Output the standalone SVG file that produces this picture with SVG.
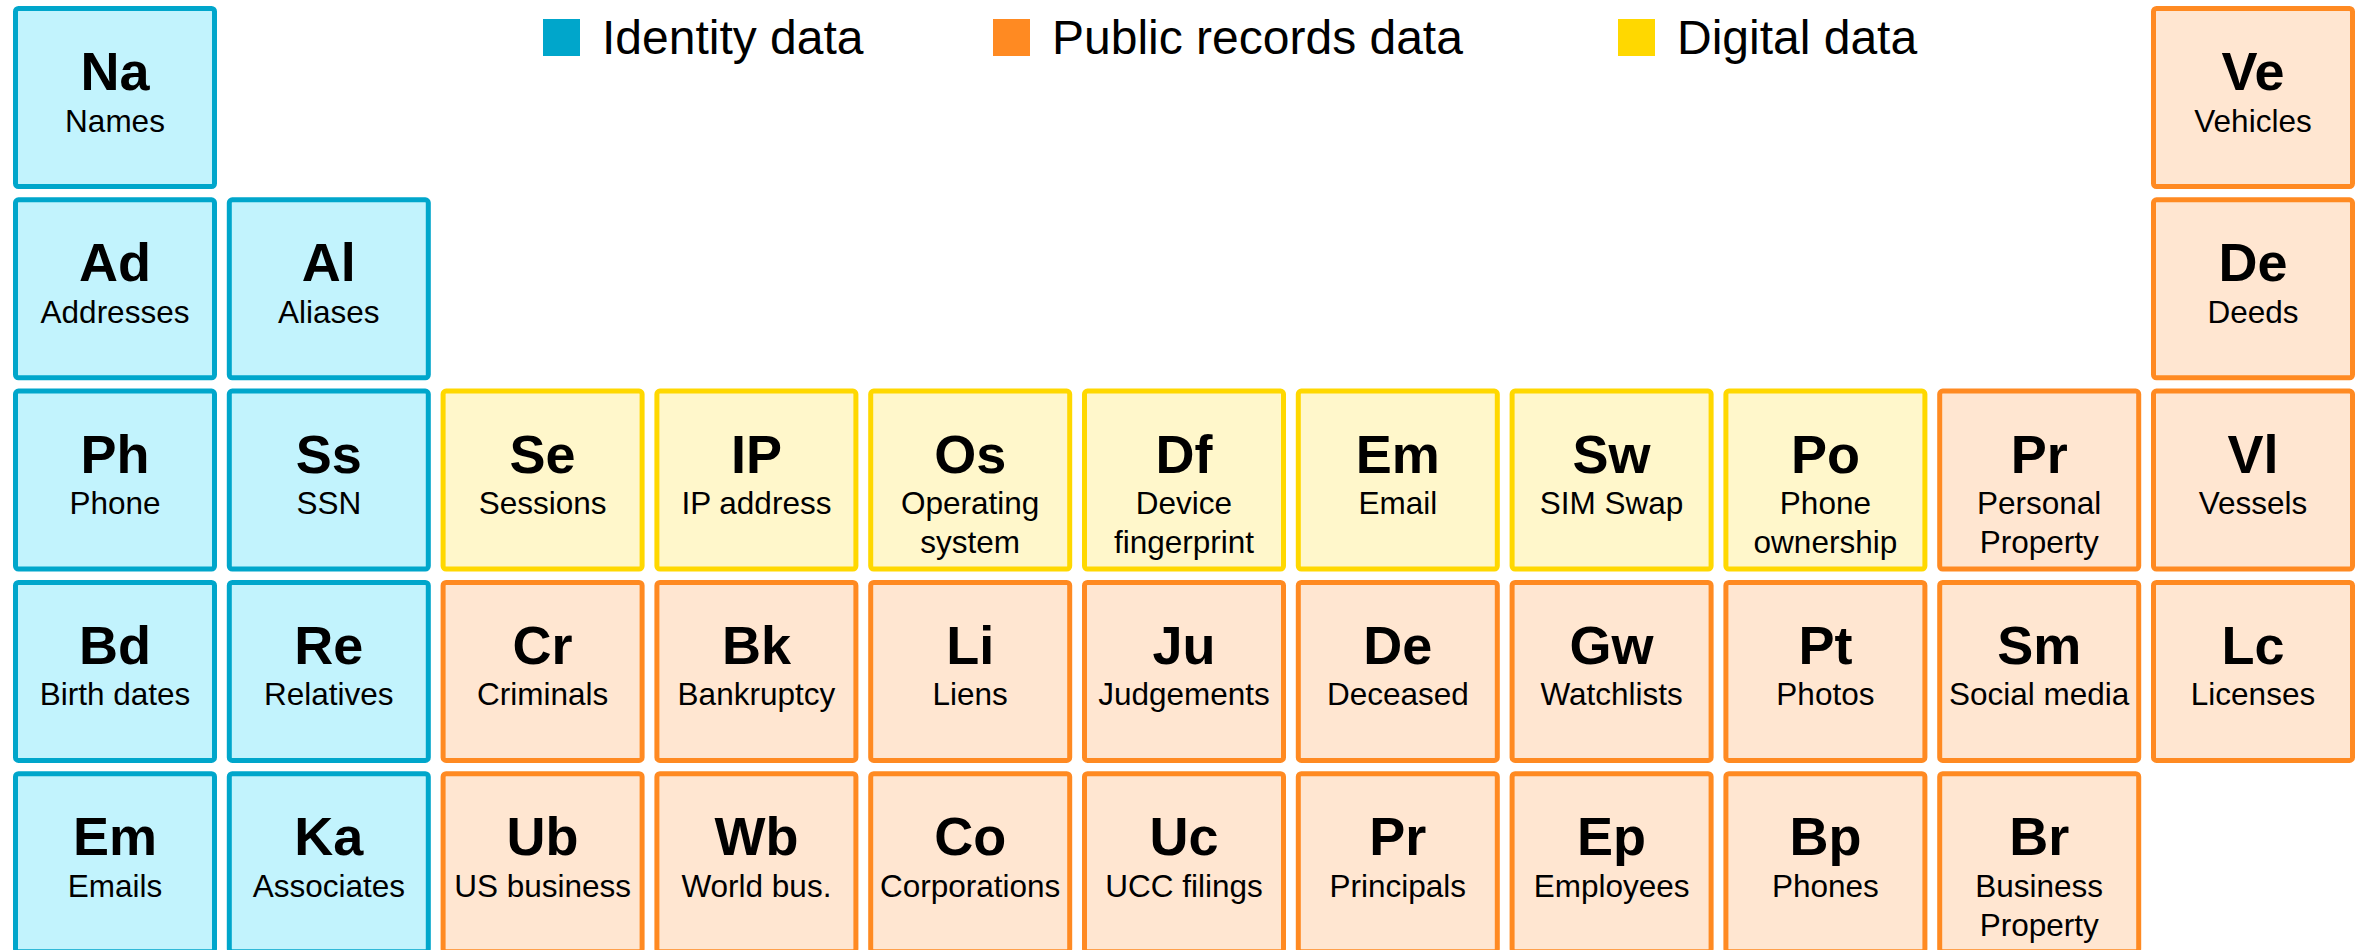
<svg xmlns="http://www.w3.org/2000/svg" width="2362" height="950" viewBox="0 0 2362 950">
  <style>
    text { font-family: "Liberation Sans", Arial, sans-serif; fill: #000; text-anchor: middle; }
    .sym { font-size: 54px; font-weight: bold; }
    .lbl { font-size: 31.5px; }
    .leg { font-size: 48px; text-anchor: start; }
    .id > use { fill: #C2F3FD; stroke: #00A6CB; }
    .pr > use { fill: #FFE6D1; stroke: #FF8A22; }
    .dg > use { fill: #FFF7CB; stroke: #FFD800; }
  </style>
  <defs>
    <!-- cell outline; fill and stroke are inherited from the <use> -->
    <rect id="box" x="2.5" y="2.5" width="199" height="178" rx="3" stroke-width="5"/>
  </defs>
  <rect width="2362" height="950" fill="#fff"/>

  <!-- legend -->
  <g id="legend">
    <rect x="543" y="19" width="37" height="37" fill="#00A6CB"/>
    <text class="leg" x="602" y="54">Identity data</text>
    <rect x="993" y="19" width="37" height="37" fill="#FF8A22"/>
    <text class="leg" x="1052" y="54">Public records data</text>
    <rect x="1618" y="19" width="37" height="37" fill="#FFD800"/>
    <text class="leg" x="1677" y="54">Digital data</text>
  </g>

  <g id="connectors"/>

  <!-- row 1 -->
  <g id="na" class="id" transform="translate(13,6)"><use href="#box"/><text class="sym" x="102" y="84">Na</text><text class="lbl" x="102" y="125.5">Names</text></g>
  <g id="ve" class="pr" transform="translate(2151,6)"><use href="#box"/><text class="sym" x="102" y="84">Ve</text><text class="lbl" x="102" y="125.5">Vehicles</text></g>

  <!-- row 2 -->
  <g id="ad" class="id" transform="translate(13,197.3)"><use href="#box"/><text class="sym" x="102" y="84">Ad</text><text class="lbl" x="102" y="125.5">Addresses</text></g>
  <g id="al" class="id" transform="translate(226.8,197.3)"><use href="#box"/><text class="sym" x="102" y="84">Al</text><text class="lbl" x="102" y="125.5">Aliases</text></g>
  <g id="de-deeds" class="pr" transform="translate(2151,197.3)"><use href="#box"/><text class="sym" x="102" y="84">De</text><text class="lbl" x="102" y="125.5">Deeds</text></g>

  <!-- row 3 -->
  <g id="ph" class="id" transform="translate(13,388.6)"><use href="#box"/><text class="sym" x="102" y="84">Ph</text><text class="lbl" x="102" y="125.5">Phone</text></g>
  <g id="ss" class="id" transform="translate(226.8,388.6)"><use href="#box"/><text class="sym" x="102" y="84">Ss</text><text class="lbl" x="102" y="125.5">SSN</text></g>
  <g id="se" class="dg" transform="translate(440.6,388.6)"><use href="#box"/><text class="sym" x="102" y="84">Se</text><text class="lbl" x="102" y="125.5">Sessions</text></g>
  <g id="ip" class="dg" transform="translate(654.4,388.6)"><use href="#box"/><text class="sym" x="102" y="84">IP</text><text class="lbl" x="102" y="125.5">IP address</text></g>
  <g id="os" class="dg" transform="translate(868.2,388.6)"><use href="#box"/><text class="sym" x="102" y="84">Os</text><text class="lbl" x="102" y="125.5">Operating</text><text class="lbl" x="102" y="164.5">system</text></g>
  <g id="df" class="dg" transform="translate(1082,388.6)"><use href="#box"/><text class="sym" x="102" y="84">Df</text><text class="lbl" x="102" y="125.5">Device</text><text class="lbl" x="102" y="164.5">fingerprint</text></g>
  <g id="em-email" class="dg" transform="translate(1295.8,388.6)"><use href="#box"/><text class="sym" x="102" y="84">Em</text><text class="lbl" x="102" y="125.5">Email</text></g>
  <g id="sw" class="dg" transform="translate(1509.6,388.6)"><use href="#box"/><text class="sym" x="102" y="84">Sw</text><text class="lbl" x="102" y="125.5">SIM Swap</text></g>
  <g id="po" class="dg" transform="translate(1723.4,388.6)"><use href="#box"/><text class="sym" x="102" y="84">Po</text><text class="lbl" x="102" y="125.5">Phone</text><text class="lbl" x="102" y="164.5">ownership</text></g>
  <g id="pr-personal" class="pr" transform="translate(1937.2,388.6)"><use href="#box"/><text class="sym" x="102" y="84">Pr</text><text class="lbl" x="102" y="125.5">Personal</text><text class="lbl" x="102" y="164.5">Property</text></g>
  <g id="vl" class="pr" transform="translate(2151,388.6)"><use href="#box"/><text class="sym" x="102" y="84">Vl</text><text class="lbl" x="102" y="125.5">Vessels</text></g>

  <!-- row 4 -->
  <g id="bd" class="id" transform="translate(13,579.9)"><use href="#box"/><text class="sym" x="102" y="84">Bd</text><text class="lbl" x="102" y="125.5">Birth dates</text></g>
  <g id="re" class="id" transform="translate(226.8,579.9)"><use href="#box"/><text class="sym" x="102" y="84">Re</text><text class="lbl" x="102" y="125.5">Relatives</text></g>
  <g id="cr" class="pr" transform="translate(440.6,579.9)"><use href="#box"/><text class="sym" x="102" y="84">Cr</text><text class="lbl" x="102" y="125.5">Criminals</text></g>
  <g id="bk" class="pr" transform="translate(654.4,579.9)"><use href="#box"/><text class="sym" x="102" y="84">Bk</text><text class="lbl" x="102" y="125.5">Bankruptcy</text></g>
  <g id="li" class="pr" transform="translate(868.2,579.9)"><use href="#box"/><text class="sym" x="102" y="84">Li</text><text class="lbl" x="102" y="125.5">Liens</text></g>
  <g id="ju" class="pr" transform="translate(1082,579.9)"><use href="#box"/><text class="sym" x="102" y="84">Ju</text><text class="lbl" x="102" y="125.5">Judgements</text></g>
  <g id="de-deceased" class="pr" transform="translate(1295.8,579.9)"><use href="#box"/><text class="sym" x="102" y="84">De</text><text class="lbl" x="102" y="125.5">Deceased</text></g>
  <g id="gw" class="pr" transform="translate(1509.6,579.9)"><use href="#box"/><text class="sym" x="102" y="84">Gw</text><text class="lbl" x="102" y="125.5">Watchlists</text></g>
  <g id="pt" class="pr" transform="translate(1723.4,579.9)"><use href="#box"/><text class="sym" x="102" y="84">Pt</text><text class="lbl" x="102" y="125.5">Photos</text></g>
  <g id="sm" class="pr" transform="translate(1937.2,579.9)"><use href="#box"/><text class="sym" x="102" y="84">Sm</text><text class="lbl" x="102" y="125.5">Social media</text></g>
  <g id="lc" class="pr" transform="translate(2151,579.9)"><use href="#box"/><text class="sym" x="102" y="84">Lc</text><text class="lbl" x="102" y="125.5">Licenses</text></g>

  <!-- row 5 (runs past the bottom edge) -->
  <g id="em-emails" class="id" transform="translate(13,771.2)"><use href="#box"/><text class="sym" x="102" y="84">Em</text><text class="lbl" x="102" y="125.5">Emails</text></g>
  <g id="ka" class="id" transform="translate(226.8,771.2)"><use href="#box"/><text class="sym" x="102" y="84">Ka</text><text class="lbl" x="102" y="125.5">Associates</text></g>
  <g id="ub" class="pr" transform="translate(440.6,771.2)"><use href="#box"/><text class="sym" x="102" y="84">Ub</text><text class="lbl" x="102" y="125.5">US business</text></g>
  <g id="wb" class="pr" transform="translate(654.4,771.2)"><use href="#box"/><text class="sym" x="102" y="84">Wb</text><text class="lbl" x="102" y="125.5">World bus.</text></g>
  <g id="co" class="pr" transform="translate(868.2,771.2)"><use href="#box"/><text class="sym" x="102" y="84">Co</text><text class="lbl" x="102" y="125.5">Corporations</text></g>
  <g id="uc" class="pr" transform="translate(1082,771.2)"><use href="#box"/><text class="sym" x="102" y="84">Uc</text><text class="lbl" x="102" y="125.5">UCC filings</text></g>
  <g id="pr-principals" class="pr" transform="translate(1295.8,771.2)"><use href="#box"/><text class="sym" x="102" y="84">Pr</text><text class="lbl" x="102" y="125.5">Principals</text></g>
  <g id="ep" class="pr" transform="translate(1509.6,771.2)"><use href="#box"/><text class="sym" x="102" y="84">Ep</text><text class="lbl" x="102" y="125.5">Employees</text></g>
  <g id="bp" class="pr" transform="translate(1723.4,771.2)"><use href="#box"/><text class="sym" x="102" y="84">Bp</text><text class="lbl" x="102" y="125.5">Phones</text></g>
  <g id="br" class="pr" transform="translate(1937.2,771.2)"><use href="#box"/><text class="sym" x="102" y="84">Br</text><text class="lbl" x="102" y="125.5">Business</text><text class="lbl" x="102" y="164.5">Property</text></g>
</svg>
